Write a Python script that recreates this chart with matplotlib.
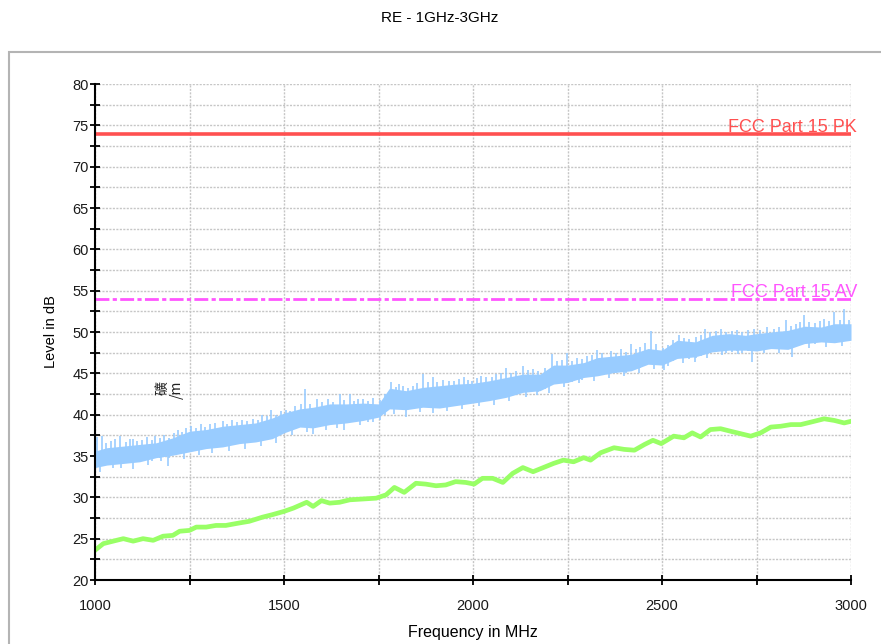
import matplotlib
matplotlib.use("Agg")
import matplotlib.pyplot as plt
from matplotlib.patches import Rectangle
from matplotlib.ticker import MultipleLocator

plt.rcParams['font.family'] = ['Liberation Sans', 'DejaVu Sans']

# ---------------- data ----------------
title = "RE - 1GHz-3GHz"
x_label = "Frequency in MHz"
y_label = "Level in dB"

limit_pk_value = 74
limit_pk_label = "FCC Part 15 PK"
limit_av_value = 54
limit_av_label = "FCC Part 15 AV"

# peak trace (blue) : dense band, upper / lower envelope
blue_freq = [1000, 1031, 1075, 1118, 1162, 1206, 1250, 1294, 1338, 1382, 1425,
             1469, 1500, 1542, 1577, 1621, 1665, 1709, 1750, 1779, 1823, 1867,
             1911, 1955, 2000, 2043, 2088, 2132, 2177, 2213, 2250, 2293, 2329,
             2373, 2418, 2463, 2500, 2540, 2588, 2633, 2677, 2721, 2750, 2788,
             2833, 2877, 2921, 2956, 3000]
blue_top = [35.6, 36.0, 36.2, 36.4, 36.6, 37.2, 38.0, 38.2, 38.6, 38.8, 39.0,
            39.6, 40.2, 40.7, 40.9, 41.3, 41.3, 41.4, 41.3, 43.2, 42.9, 43.3,
            43.5, 43.7, 43.8, 44.1, 44.5, 44.9, 44.9, 46.0, 46.0, 46.3, 46.9,
            47.1, 47.3, 48.0, 47.8, 49.0, 48.8, 49.6, 49.8, 49.6, 49.8, 50.0,
            50.2, 50.7, 50.6, 51.0, 51.0]
blue_bottom = [33.6, 33.9, 34.1, 34.3, 34.8, 35.1, 35.5, 35.9, 36.1, 36.5, 36.7,
               37.1, 37.8, 38.5, 38.4, 38.8, 39.0, 39.3, 39.7, 40.7, 40.6, 40.9,
               40.8, 41.1, 41.4, 41.7, 42.1, 42.7, 42.9, 43.7, 43.9, 44.5, 44.7,
               45.1, 45.3, 46.1, 46.0, 46.8, 47.0, 47.6, 47.8, 47.8, 47.7, 48.0,
               47.9, 48.6, 48.8, 48.7, 49.0]
# individual peaks above the band
blue_spike_freq = [1005, 1018, 1028, 1042, 1053, 1066, 1083, 1092, 1101, 1112,
                   1125, 1138, 1150, 1160, 1171, 1183, 1196, 1208, 1219, 1230,
                   1241, 1255, 1268, 1280, 1292, 1305, 1318, 1338, 1350, 1362,
                   1375, 1390, 1403, 1417, 1430, 1442, 1455, 1465, 1478, 1491,
                   1505, 1516, 1530, 1545, 1555, 1568, 1586, 1600, 1617, 1630,
                   1647, 1660, 1674, 1685, 1696, 1710, 1722, 1735, 1754, 1766,
                   1783, 1795, 1805, 1814, 1828, 1840, 1853, 1867, 1880, 1893,
                   1906, 1920, 1937, 1950, 1963, 1976, 1988, 1998, 2010, 2021,
                   2035, 2050, 2062, 2075, 2088, 2100, 2115, 2132, 2145, 2159,
                   2172, 2190, 2208, 2222, 2235, 2248, 2262, 2275, 2288, 2302,
                   2315, 2329, 2342, 2364, 2378, 2392, 2405, 2418, 2432, 2443,
                   2454, 2471, 2485, 2503, 2515, 2528, 2544, 2558, 2572, 2590,
                   2603, 2615, 2628, 2642, 2655, 2668, 2685, 2699, 2712, 2728,
                   2743, 2760, 2779, 2795, 2810, 2827, 2840, 2855, 2866, 2876,
                   2890, 2905, 2918, 2929, 2942, 2956, 2970, 2982, 2996]
blue_spike_val = [37.3, 37.4, 36.6, 36.8, 37.0, 37.4, 36.7, 37.1, 37.0, 36.8,
                  36.9, 37.3, 36.9, 37.4, 37.2, 37.6, 37.2, 37.8, 38.2, 37.9,
                  38.4, 38.6, 38.4, 38.9, 38.5, 38.9, 39.0, 39.2, 38.9, 39.4,
                  39.1, 39.4, 39.2, 39.5, 39.4, 39.9, 39.8, 40.6, 40.0, 40.4,
                  40.6, 40.5, 41.0, 41.3, 43.1, 41.3, 41.9, 41.5, 41.9, 41.5,
                  42.5, 41.8, 42.5, 41.7, 41.9, 41.9, 41.6, 42.0, 41.8, 42.5,
                  43.9, 43.4, 43.7, 43.5, 43.2, 43.5, 43.8, 44.9, 43.9, 44.5,
                  44.0, 44.2, 44.1, 44.1, 44.3, 44.5, 44.2, 44.1, 44.4, 44.7,
                  44.6, 44.5, 44.9, 45.0, 45.7, 45.0, 45.3, 45.9, 45.4, 45.5,
                  45.3, 45.6, 47.3, 46.5, 46.6, 47.5, 46.5, 46.9, 46.7, 47.1,
                  47.2, 47.8, 47.4, 47.7, 47.5, 47.9, 47.6, 48.5, 48.0, 48.2,
                  48.7, 50.1, 48.6, 48.1, 48.4, 49.0, 49.6, 49.3, 49.2, 49.4,
                  49.6, 50.4, 50.0, 50.1, 50.4, 50.0, 50.1, 50.2, 50.0, 50.2,
                  50.4, 50.3, 50.6, 50.4, 50.6, 51.4, 50.7, 51.0, 51.2, 52.0,
                  51.2, 51.1, 51.3, 51.6, 51.3, 52.4, 51.5, 52.8, 51.4]
# individual dips below the band
blue_dip_freq = [1012, 1047, 1070, 1101, 1140, 1175, 1193, 1235, 1275, 1310,
                 1355, 1398, 1440, 1480, 1520, 1560, 1577, 1610, 1640, 1660,
                 1700, 1735, 1790, 1823, 1860, 1895, 1930, 1970, 2015, 2055,
                 2095, 2140, 2170, 2200, 2240, 2280, 2320, 2360, 2400, 2440,
                 2480, 2504, 2555, 2588, 2620, 2660, 2700, 2739, 2770, 2810,
                 2845, 2890, 2935, 2975]
blue_dip_val = [33.1, 33.5, 33.6, 33.4, 33.9, 34.4, 33.8, 34.6, 35.1, 35.4,
                35.6, 35.9, 36.2, 36.6, 37.5, 37.9, 37.7, 38.2, 38.4, 38.2,
                38.8, 39.1, 40.1, 39.7, 40.3, 40.2, 40.5, 40.7, 41.0, 41.2,
                41.6, 42.1, 42.4, 42.6, 43.3, 43.8, 44.1, 44.4, 44.7, 45.1,
                45.5, 45.4, 46.3, 46.4, 46.9, 47.2, 47.3, 46.4, 47.4, 47.5,
                47.0, 48.1, 48.2, 48.3]

# average trace (green)
green_freq = [1000, 1022, 1057, 1075, 1101, 1127, 1154, 1180, 1206, 1224, 1250,
              1268, 1294, 1320, 1346, 1382, 1408, 1443, 1469, 1500, 1525, 1560,
              1577, 1599, 1621, 1647, 1674, 1709, 1744, 1770, 1792, 1818, 1849,
              1875, 1902, 1928, 1954, 1981, 2003, 2025, 2052, 2079, 2105, 2132,
              2159, 2186, 2213, 2239, 2266, 2293, 2311, 2338, 2373, 2400, 2427,
              2454, 2476, 2498, 2531, 2558, 2580, 2602, 2628, 2655, 2681, 2708,
              2735, 2761, 2788, 2814, 2841, 2867, 2894, 2929, 2956, 2982, 3000]
green_val = [23.6, 24.4, 24.8, 25.0, 24.7, 25.0, 24.8, 25.3, 25.4, 25.9, 26.0,
             26.4, 26.4, 26.6, 26.6, 26.9, 27.1, 27.6, 27.9, 28.3, 28.7, 29.4,
             28.9, 29.6, 29.3, 29.4, 29.7, 29.8, 29.9, 30.3, 31.2, 30.6, 31.7,
             31.6, 31.4, 31.5, 31.9, 31.8, 31.6, 32.3, 32.3, 31.8, 32.9, 33.6,
             33.1, 33.6, 34.1, 34.5, 34.3, 34.8, 34.5, 35.4, 36.0, 35.8, 35.7,
             36.4, 36.9, 36.5, 37.4, 37.2, 37.8, 37.3, 38.2, 38.3, 38.0, 37.7,
             37.4, 37.8, 38.5, 38.6, 38.8, 38.8, 39.1, 39.5, 39.3, 39.0, 39.2]

x_min, x_max = 1000, 3000
y_min, y_max = 20, 80

# ---------------- figure ----------------
W, H = 881, 644
fig = plt.figure(figsize=(W / 100, H / 100), dpi=100)

# outer grey frame
fig.patches.append(Rectangle((9 / W, -0.2), 1.5, (H - 52) / H + 0.2,
                             transform=fig.transFigure, fill=False,
                             edgecolor='#b4b4b4', linewidth=1.5))

ax = fig.add_axes([95 / W, (H - 580) / H, 756 / W, 496 / H])

blue_c = '#99ccff'
green_c = '#99ff66'

ax.fill_between(blue_freq, blue_bottom, blue_top, color=blue_c, linewidth=0,
                zorder=3)
ax.vlines(blue_spike_freq, [v - 2.5 for v in blue_spike_val], blue_spike_val,
          color=blue_c, linewidth=1.2, zorder=3)
ax.vlines(blue_dip_freq, blue_dip_val, [d + 2.0 for d in blue_dip_val],
          color=blue_c, linewidth=1.2, zorder=3)

ax.plot(green_freq, green_val, color=green_c, linewidth=3.4, zorder=3,
        solid_joinstyle='round')

ax.axhline(limit_pk_value, color='#ff5050', linewidth=2.6, zorder=4)
ax.axhline(limit_av_value, color='#ff55ff', linewidth=2.0, zorder=4,
           linestyle=(0, (5, 1.2, 1.5, 1.2)))
ax.text(3016, limit_pk_value + 0.2, limit_pk_label, color='#ff5050',
        fontsize=13, ha='right', va='baseline', zorder=5)
ax.text(3016, limit_av_value + 0.2, limit_av_label, color='#ff55ff',
        fontsize=13, ha='right', va='baseline', zorder=5)

ax.text(1198, 43.0, "礦\n/m", rotation=90, fontsize=10, ha='center',
        va='center', multialignment='right', color='#222222',
        linespacing=1.0, family=['Noto Sans CJK SC', 'DejaVu Sans'])

ax.set_xlim(x_min, x_max)
ax.set_ylim(y_min, y_max)

ax.xaxis.set_major_locator(MultipleLocator(500))
ax.xaxis.set_minor_locator(MultipleLocator(250))
ax.yaxis.set_major_locator(MultipleLocator(5))
ax.yaxis.set_minor_locator(MultipleLocator(2.5))

ax.grid(True, which='both', color='#c6c6c6', linestyle=(0, (1.5, 1)),
        linewidth=1.0, zorder=0)
ax.set_axisbelow(True)

for s in ('top', 'right'):
    ax.spines[s].set_visible(False)
for s in ('left', 'bottom'):
    ax.spines[s].set_linewidth(1.5)
    ax.spines[s].set_color('black')
    ax.spines[s].set_zorder(6)

ax.tick_params(which='both', direction='inout', length=7, width=1.3,
               color='black', labelsize=10.5, labelcolor='#1a1a1a')
ax.tick_params(axis='x', which='major', pad=10)
ax.tick_params(axis='y', which='major', pad=1)

ax.set_xlabel(x_label, fontsize=11.5, labelpad=9)
ax.set_ylabel(y_label, fontsize=10.5, labelpad=10)

fig.text(440 / W, 1 - 18 / H, title, fontsize=11, ha='center', va='center')

fig.savefig("out.png", dpi=100)
